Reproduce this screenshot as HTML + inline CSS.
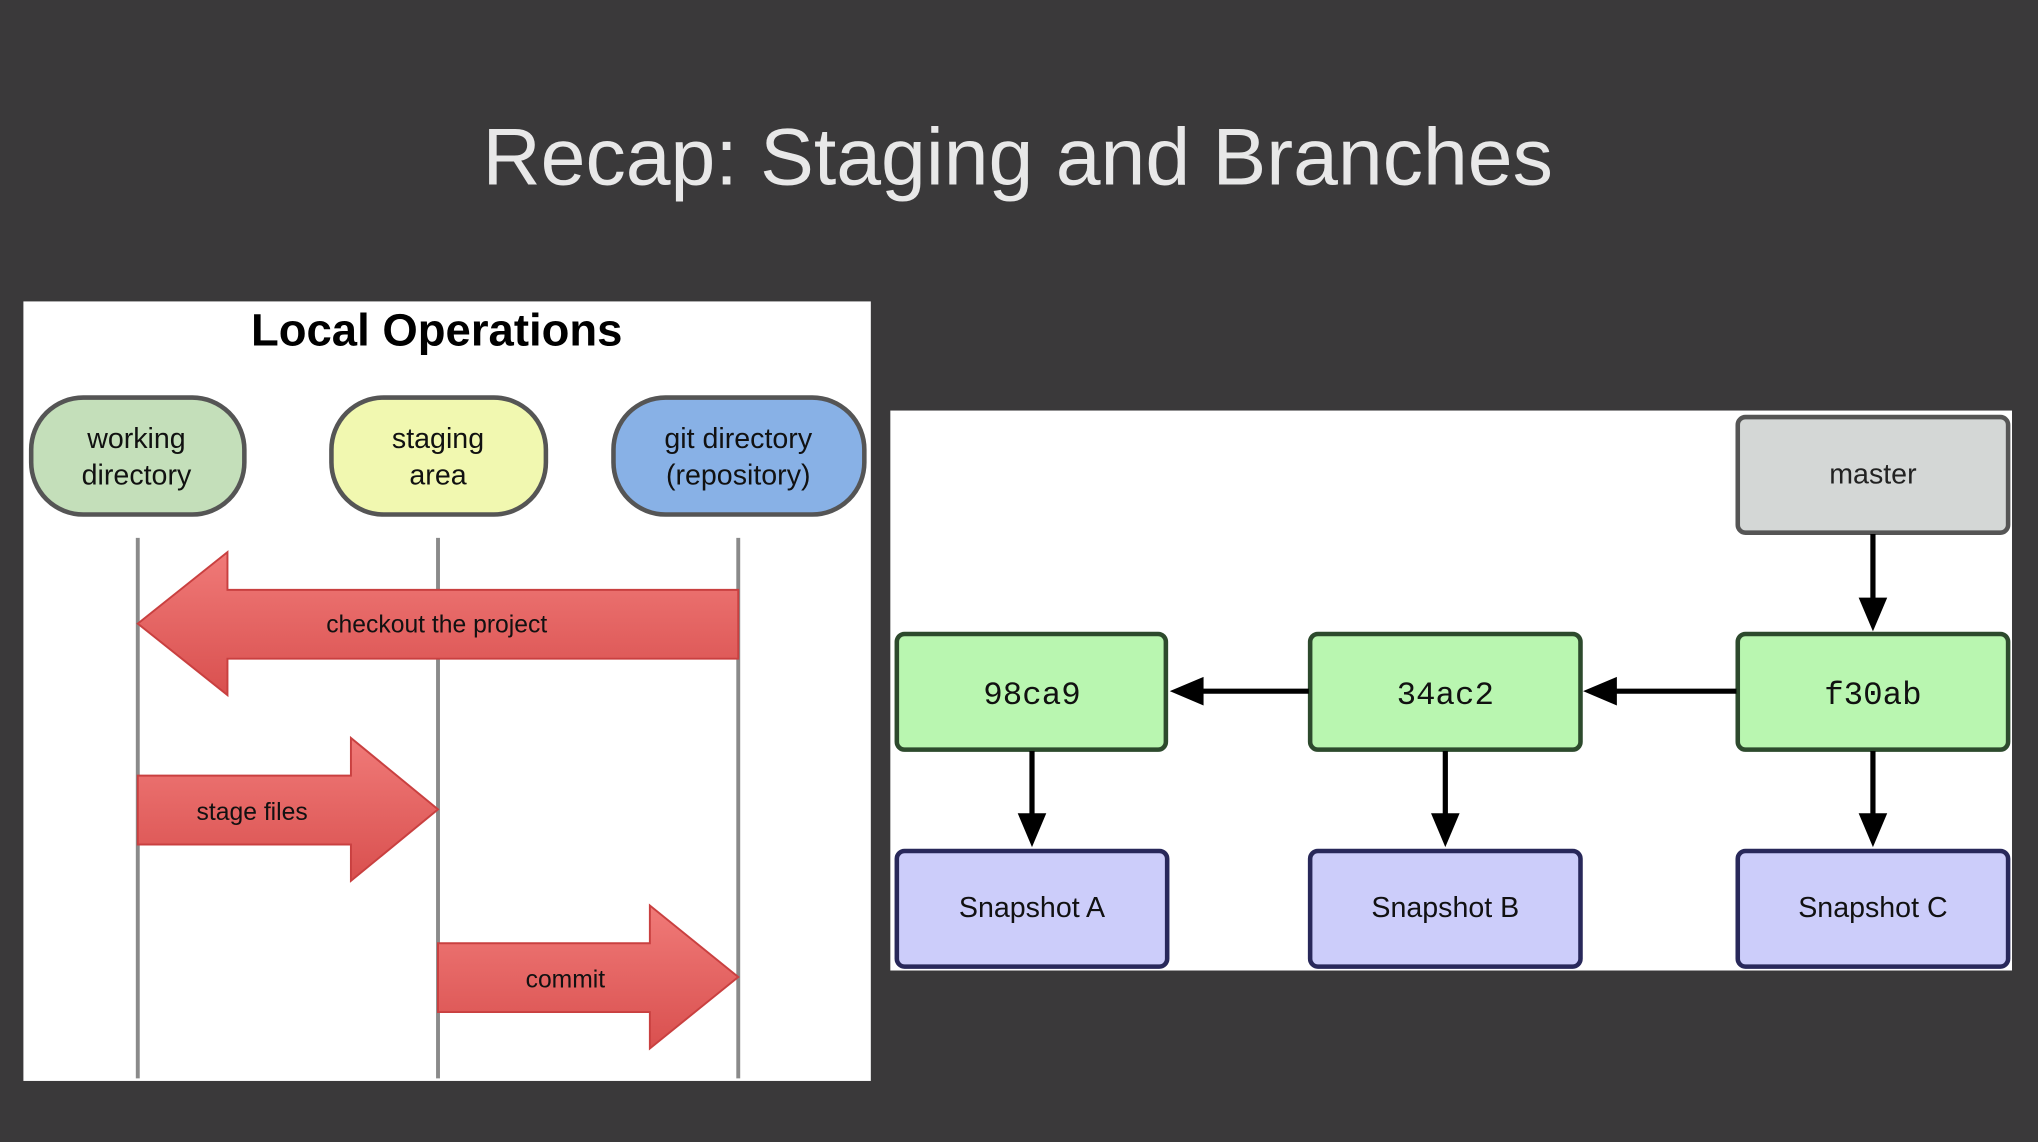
<!DOCTYPE html>
<html><head><meta charset="utf-8"><style>
html,body{margin:0;padding:0;background:#3a393a;}
svg{display:block}
</style></head><body>
<svg width="2038" height="1142" viewBox="0 0 1568 879" preserveAspectRatio="none" xmlns="http://www.w3.org/2000/svg">
<defs>
<linearGradient id="rg" x1="0" y1="0" x2="0" y2="1"><stop offset="0" stop-color="#f07a78"/><stop offset="1" stop-color="#d9504f"/></linearGradient>
</defs>
<rect width="1568" height="879" fill="#3a393a"/>
<text x="783" y="142" text-anchor="middle" font-family="Liberation Sans, sans-serif" font-size="62" fill="#e8e8e8">Recap: Staging and Branches</text>

<rect x="18" y="232" width="652" height="600" fill="#fff"/>
<text x="336" y="266" text-anchor="middle" font-family="Liberation Sans, sans-serif" font-weight="bold" font-size="35" fill="#000">Local Operations</text>
<g stroke="#555" stroke-width="3.5">
<rect x="24" y="306" width="164" height="90" rx="40" ry="40" fill="#c4dfba"/>
<rect x="255" y="306" width="165" height="90" rx="40" ry="40" fill="#f1f8b0"/>
<rect x="472" y="306" width="193" height="90" rx="40" ry="40" fill="#88b1e6"/>
</g>
<g font-family="Liberation Sans, sans-serif" font-size="22" fill="#111" text-anchor="middle">
<text x="105" y="345">working</text><text x="105" y="373">directory</text>
<text x="337" y="345">staging</text><text x="337" y="373">area</text>
<text x="568" y="345">git directory</text><text x="568" y="373">(repository)</text>
</g>
<g stroke="#8a8a8a" stroke-width="3">
<line x1="106" y1="414" x2="106" y2="830"/><line x1="337" y1="414" x2="337" y2="830"/><line x1="568" y1="414" x2="568" y2="830"/>
</g>
<g fill="url(#rg)" stroke="#c94040" stroke-width="1.5">
<path d="M106,480 L175,425 L175,454 L568,454 L568,507 L175,507 L175,535 Z"/>
<path d="M106,597 L270,597 L270,568 L337,623 L270,678 L270,650 L106,650 Z"/>
<path d="M337,726 L500,726 L500,697 L568,752 L500,807 L500,779 L337,779 Z"/>
</g>
<g font-family="Liberation Sans, sans-serif" font-size="19" fill="#111" text-anchor="middle">
<text x="336" y="487">checkout the project</text>
<text x="194" y="631">stage files</text>
<text x="435" y="760">commit</text>
</g>

<rect x="685" y="316" width="863" height="431" fill="#fff"/>
<rect x="1337" y="321" width="208" height="89" rx="6" fill="#d4d7d6" stroke="#555" stroke-width="3.5"/>
<text x="1441" y="372" text-anchor="middle" font-family="Liberation Sans, sans-serif" font-size="22" fill="#222">master</text>
<g fill="#b9f6b0" stroke="#2d4a2d" stroke-width="3.5">
<rect x="690" y="488" width="207" height="89" rx="6"/>
<rect x="1008" y="488" width="208" height="89" rx="6"/>
<rect x="1337" y="488" width="208" height="89" rx="6"/>
</g>
<g font-family="Liberation Mono, monospace" font-size="25" fill="#111" text-anchor="middle">
<text x="794" y="542">98ca9</text><text x="1112" y="542">34ac2</text><text x="1441" y="542">f30ab</text>
</g>
<g fill="#cccdfa" stroke="#28285a" stroke-width="3.5">
<rect x="690" y="655" width="208" height="89" rx="6"/>
<rect x="1008" y="655" width="208" height="89" rx="6"/>
<rect x="1337" y="655" width="208" height="89" rx="6"/>
</g>
<g font-family="Liberation Sans, sans-serif" font-size="22" fill="#111" text-anchor="middle">
<text x="794" y="706">Snapshot A</text><text x="1112" y="706">Snapshot B</text><text x="1441" y="706">Snapshot C</text>
</g>
<g stroke="#000" stroke-width="4" fill="none">
<line x1="1441" y1="411" x2="1441" y2="462"/>
<line x1="1336" y1="532" x2="1242" y2="532"/>
<line x1="1007" y1="532" x2="924" y2="532"/>
<line x1="794" y1="578" x2="794" y2="628"/>
<line x1="1112" y1="578" x2="1112" y2="628"/>
<line x1="1441" y1="578" x2="1441" y2="628"/>
</g>
<g fill="#000">
<path d="M1430,460 L1452,460 L1441,486 Z"/>
<path d="M1244,521 L1244,543 L1218,532 Z"/>
<path d="M926,521 L926,543 L900,532 Z"/>
<path d="M783,626 L805,626 L794,652 Z"/>
<path d="M1101,626 L1123,626 L1112,652 Z"/>
<path d="M1430,626 L1452,626 L1441,652 Z"/>
</g>
</svg>
</body></html>
